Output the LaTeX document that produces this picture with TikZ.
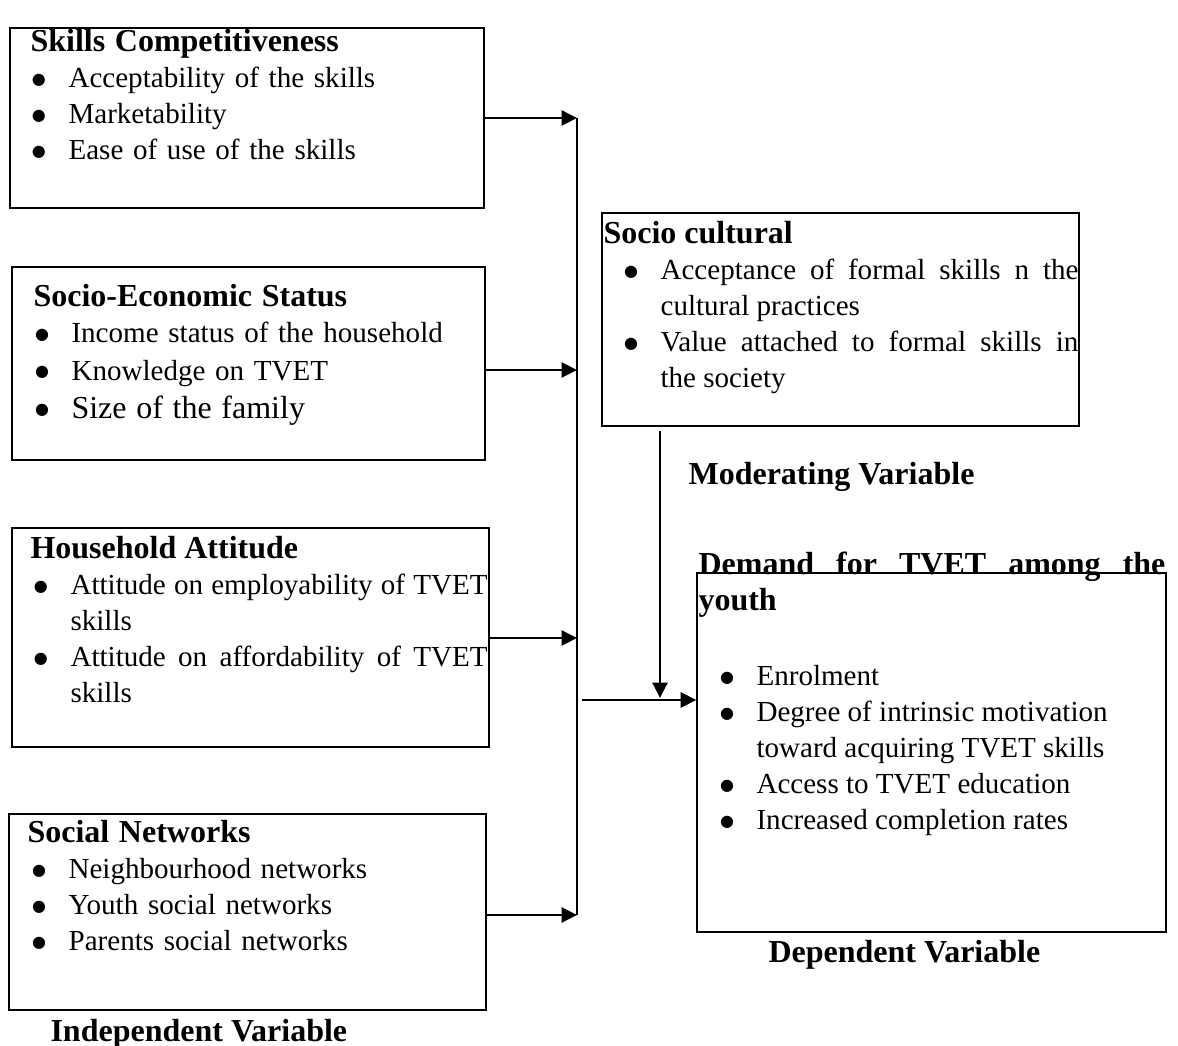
\documentclass[tikz,border=0pt]{standalone}
\usepackage{fontspec}
\setmainfont{Liberation Serif}
\newfontfamily\dotfont{DejaVu Sans}
\usetikzlibrary{arrows.meta,positioning,fit}
\newlength{\itemin}
\newlength{\dotw}
\setlength{\dotw}{13.7pt}
\newcommand{\bodyfont}{\fontsize{10.9}{13.5}\selectfont\tolerance=9999\relax}
\newcommand{\hd}[1]{{\fontsize{12}{13.5}\selectfont\bfseries #1\par}}
\newcommand{\dotmark}{\raisebox{1.3pt}{\dotfont\fontsize{6}{6}\selectfont ●}}
\newcommand{\bul}[2][0pt]{\par\vspace{#1}\leftskip=\itemin\noindent\llap{\makebox[\dotw][l]{\dotmark}}#2\par}
\tikzset{
  varbox/.style={draw, line width=0.6pt, inner sep=0pt},
  blk/.style 2 args={anchor=base west, inner sep=0pt, text width=#1, align=left,
    font=\bodyfont, execute at begin node={\setlength{\itemin}{#2}}},
  flow/.style={-{Triangle[length=5.8pt, width=5.6pt]}, line width=1.1pt},
  bus/.style={line width=0.55pt},
  vlab/.style={anchor=base west, inner sep=0pt, font=\fontsize{12}{13.5}\selectfont\bfseries},
}

\begin{document}
\begin{tikzpicture}[x=0.375pt,y=-0.375pt]
\useasboundingbox (0,0) rectangle (1178,1046);

% ============ independent variables (left column) ============
\node[varbox, line width=0.75pt, fit={(10,28) (484,208)}] (skills) {};
\node[blk={168.75pt}{14.25pt}] (skillstxt) at (30,52) {\hd{Skills Competitiveness}
  \bul{Acceptability of the skills}
  \bul{Marketability}
  \bul{Ease of use of the skills}};

\node[varbox, line width=0.75pt, fit={(12,267) (485,460)}] (ses) {};
\node[blk={168.75pt}{14.25pt}] (sestxt) at (33,307) {\hd{Socio-Economic Status}
  \bul{Income status of the household}
  \bul[0.4pt]{Knowledge on TVET}
  \bul[0.9pt]{\fontsize{12}{13.5}\selectfont Size of the family}};

\node[varbox, fit={(12,528) (489,747)}] (attitude) {};
\node[blk={171.4pt}{15pt}, align=justify] (attitudetxt) at (30,559) {\hd{Household Attitude}
  \bul{Attitude on employability of TVET skills}
  \bul{Attitude on affordability of TVET skills}};

\node[varbox, fit={(9,814) (486,1010)}] (networks) {};
\node[blk={170.6pt}{15.4pt}] (networkstxt) at (27,843) {\hd{Social Networks}
  \bul{Neighbourhood networks}
  \bul{Youth social networks}
  \bul{Parents social networks}};

\node[vlab] (indlab) at (50,1042) {Independent Variable};

% ============ moderating variable ============
\node[varbox, fit={(602,213) (1079,426)}] (socio) {};
\node[blk={178.1pt}{21.4pt}, align=justify] (sociotxt) at (603,244) {\hd{Socio cultural}
  \bul{Acceptance of formal skills n the cultural practices}
  \bul{Value attached to formal skills in\linebreak the society}};

\node[vlab] (modlab) at (688,485) {Moderating Variable};

% ============ dependent variable ============
\node[varbox, fit={(697,573) (1166,932)}] (demand) {};
\node[blk={175.1pt}{21.75pt}, align=justify] (demandtxt) at (698,575) {\hd{Demand for TVET among the youth}
  \bul[14.5pt]{Enrolment}
  \bul{Degree of intrinsic motivation\newline toward acquiring TVET skills}
  \bul{Access to TVET education}
  \bul{Increased completion rates}};

\node[vlab] (deplab) at (768,963) {Dependent Variable};

% ============ connectors ============
\coordinate (b1) at (577,118);
\coordinate (b2) at (577,370);
\coordinate (b3) at (577,638);
\coordinate (b4) at (577,915);
\draw[bus] (b1) -- (b4);
\draw[flow] (skills.east |- b1) -- (b1);
\draw[flow] (ses.east |- b2) -- (b2);
\draw[flow] (attitude.east |- b3) -- (b3);
\draw[flow] (networks.east |- b4) -- (b4);

\coordinate (hub) at (582,700);
\coordinate (meet) at (660,698);
\draw[flow] (hub) -- (hub -| demand.west);
\draw[flow, shorten <=1.5pt] (socio.south -| meet) -- (meet);

\end{tikzpicture}
\end{document}
